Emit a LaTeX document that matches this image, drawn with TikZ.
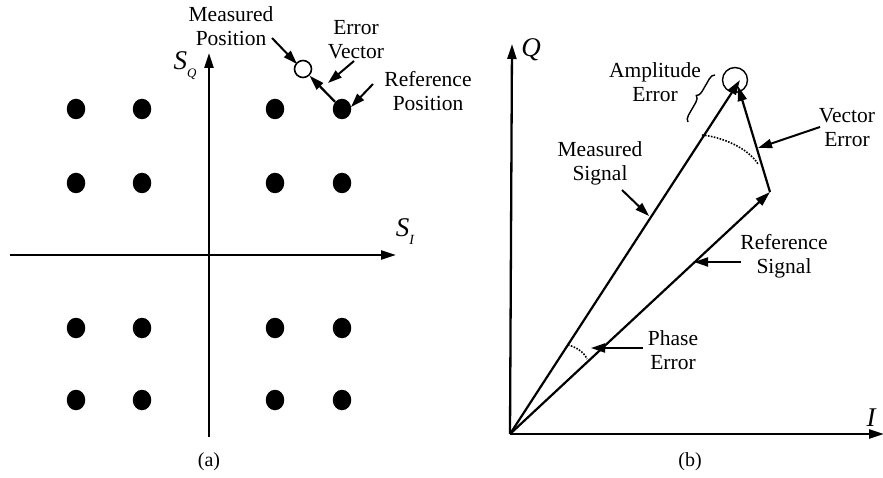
\documentclass[tikz,border=0pt]{standalone}
\usepackage{fontspec}
\setmainfont{Liberation Serif}
\usetikzlibrary{arrows.meta,shapes.geometric,decorations.pathreplacing}
\begin{document}
\begin{tikzpicture}[x=1pt,y=-1pt,
  lbl/.style={align=center,font=\fontsize{21.5}{24}\selectfont,inner sep=0pt},
  axlbl/.style={font=\fontsize{27}{27}\selectfont\itshape,inner sep=0pt},
  axis/.style={line width=2.3pt,-{Triangle[length=15pt,width=9pt]}},
  ptr/.style={line width=2pt,-{Triangle[length=14pt,width=9pt]}},
  vec/.style={line width=2.2pt,-{Triangle[length=15pt,width=9pt]}},
  dot/.style={ellipse,fill=black,minimum width=18.5pt,minimum height=20.5pt,inner sep=0pt},
  dotarc/.style={line width=1.6pt,dash pattern=on 1.6pt off 1.4pt},
]
\useasboundingbox (0,0) rectangle (883,478);

% ---------------- panel (a) ----------------
\coordinate (hl) at (10,255);
\coordinate (hr) at (396,255);
\coordinate (vb) at (209,437);
\coordinate (vt) at (209,53);
\draw[axis] (hl) -- (hr);
\draw[axis] (vb) -- (vt);
\node[inner sep=0pt] (sq) at (185,66) {\fontsize{27}{27}\selectfont\itshape S\raisebox{-0.3em}{\fontsize{13}{13}\selectfont Q}};
\node[inner sep=0pt] (si) at (405,232) {\fontsize{27}{27}\selectfont\itshape S\raisebox{-0.3em}{\fontsize{14}{14}\selectfont I}};

\foreach \x/\i in {76/1,142/2,275/3,342/4}{
  \foreach \y/\j in {109/1,183/2,328/3,400/4}{
    \node[dot] (d\i\j) at (\x,\y) {};
  }
}
\node[circle,draw,line width=1.6pt,minimum size=17pt,inner sep=0pt,fill=white] (meas) at (303,69) {};
\draw[vec] (d41) -- (meas);

\node[lbl] (lmp) at (231,26) {Measured\\Position};
\node[lbl] (lev) at (356,40) {Error\\Vector};
\node[lbl] (lrp) at (428,91) {Reference\\Position};
\coordinate (mp1) at (272,38);  \coordinate (mp2) at (297,64);
\coordinate (ev1) at (354,61);  \coordinate (ev2) at (328,83);
\coordinate (rp1) at (373,84);  \coordinate (rp2) at (351,107);
\draw[ptr] (mp1) -- (mp2);
\draw[ptr] (ev1) -- (ev2);
\draw[ptr] (rp1) -- (rp2);

\node[font=\fontsize{20}{20}\selectfont] (capa) at (209,462) {(a)};

% ---------------- panel (b) ----------------
\coordinate (O) at (510,434);
\coordinate (Ie) at (884,434);
\coordinate (Qe) at (512,44);
\draw[axis] (O) -- (Ie);
\draw[axis] (O) -- (Qe);
\node[axlbl] (Ql) at (531,50) {Q};
\node[axlbl] (Il) at (871,418) {I};

\coordinate (M) at (740,80);
\coordinate (R) at (770,192);
\draw[vec] (O) -- (M);
\draw[vec] (O) -- (R);
\draw[vec] (R) -- (738,86);
\node[circle,draw,line width=1.4pt,minimum size=25pt,inner sep=0pt] (ampc) at (735,80) {};

% dotted arcs
\draw[dotarc] (702,135) .. controls (722,137) and (748,148) .. (758,164);
\draw[dotarc] (568,345) .. controls (576,347) and (584,352) .. (587,359);

% brace for amplitude error
\draw[line width=1.4pt,decorate,decoration={brace,amplitude=6pt,aspect=0.5}] (688,122) -- (715,75);

\node[lbl] (lae) at (655,82) {Amplitude\\Error};
\node[lbl] (lve) at (847,128) {Vector\\Error};
\node[lbl] (lms) at (600,163) {Measured\\Signal};
\node[lbl] (lrs) at (784,256) {Reference\\Signal};
\node[lbl] (lpe) at (673,350) {Phase\\Error};

\coordinate (ve1) at (820,127); \coordinate (ve2) at (758,148);
\coordinate (ms1) at (622,190); \coordinate (ms2) at (649,216);
\coordinate (rs1) at (741,262); \coordinate (rs2) at (694,262);
\coordinate (pe1) at (643,348); \coordinate (pe2) at (591,348);
\draw[ptr] (ve1) -- (ve2);
\draw[ptr] (ms1) -- (ms2);
\draw[ptr] (rs1) -- (rs2);
\draw[ptr] (pe1) -- (pe2);

\node[font=\fontsize{20}{20}\selectfont] (capb) at (690,462) {(b)};
\end{tikzpicture}
\end{document}
